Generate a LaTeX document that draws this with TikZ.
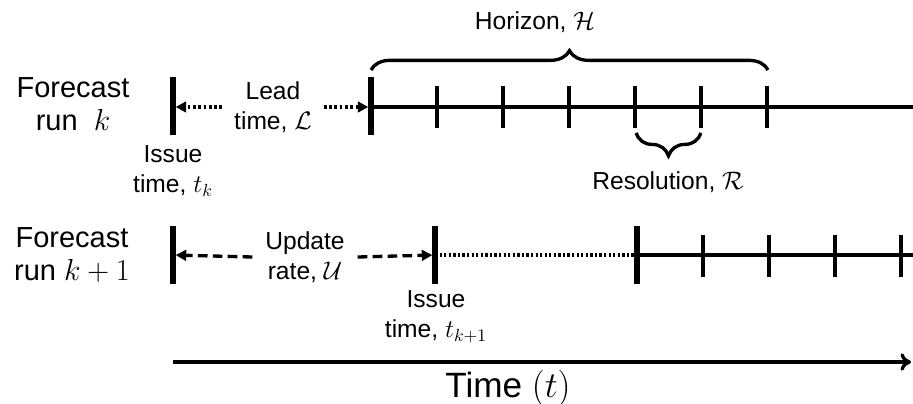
\documentclass[tikz,border=0pt]{standalone}
\usepackage{fontspec}
\setmainfont{Liberation Sans}
\usetikzlibrary{arrows.meta,decorations.pathreplacing}

\begin{document}
\begin{tikzpicture}[x=0.02cm,y=-0.02cm,inner sep=0pt,outer sep=0pt,
lbl/.style={align=center,font=\fontsize{14}{17}\selectfont},
runlbl/.style={align=center,font=\fontsize{16.5}{18.5}\selectfont},
axis/.style={line width=1.9pt},
bigtick/.style={line width=3pt},
smalltick/.style={line width=1.9pt},
dotarrow/.style={line width=1.9pt,dash pattern=on 1.5pt off 1.5pt,-{Triangle[length=6pt,width=6pt]},shorten >=1.5pt},
dasharrow/.style={line width=1.9pt,dash pattern=on 5.5pt off 3pt,-{Triangle[length=6pt,width=6pt]},shorten >=1.5pt},
brace/.style={line width=1.9pt,decorate,decoration={brace,amplitude=#1}}]
\useasboundingbox (0,0) rectangle (913,403);
% forecast run k
\draw (73,104) node[runlbl] (runA) {Forecast\\run\ \ $k$};
\draw[bigtick] (173,77) -- (173,135);
\draw[bigtick] (371,77) -- (371,135);
\coordinate (issA) at (173,107);
\coordinate (startA) at (371,107);
\coordinate (endA) at (913,107);
\draw[axis] (startA) -- (endA);
\foreach \x in {437,503,569,635,701,767}
  \draw[smalltick] (\x,86) -- (\x,128);
\draw (273,107) node[lbl,minimum width=58pt] (lead) {Lead\\time, $\mathcal{L}$};
\draw[dotarrow] (lead.west) -- (issA);
\draw[dotarrow] (lead.east) -- (startA);
\draw (173,171) node[lbl] (issAlbl) {Issue\\time, $t_k$};
\coordinate (hzL) at (371,70);
\coordinate (hzR) at (768,70);
\draw[brace=11pt] (hzL) -- (hzR);
\draw (535,22) node[lbl] (hz) {Horizon, $\mathcal{H}$};
\coordinate (resR) at (701,133);
\coordinate (resL) at (636,133);
\draw[brace=13pt] (resR) -- (resL);
\draw (668,182) node[lbl] (res) {Resolution, $\mathcal{R}$};
% forecast run k+1
\draw (72,255) node[runlbl] (runB) {Forecast\\run $k+1$};
\draw[bigtick] (173,226) -- (173,284);
\draw[bigtick] (435,226) -- (435,284);
\draw[bigtick] (637,226) -- (637,284);
\coordinate (updB) at (173,255);
\coordinate (issB) at (435,255);
\coordinate (startB) at (637,255);
\coordinate (endB) at (913,255);
\draw[line width=1.9pt,dash pattern=on 1.3pt off 1.3pt] (issB) -- (startB);
\draw[axis] (startB) -- (endB);
\foreach \x in {703,769,835,901}
  \draw[smalltick] (\x,235) -- (\x,277);
\draw (305,257) node[lbl,minimum width=60pt] (upd) {Update\\rate, $\mathcal{U}$};
\draw[dasharrow] (upd.west) -- (updB);
\draw[dasharrow] (upd.east) -- (issB);
\draw (436,317) node[lbl] (issBlbl) {Issue\\time, $t_{k+1}$};
% time axis
\coordinate (timeS) at (173,362);
\coordinate (timeE) at (911,362);
\draw[axis,-{To[length=6pt,width=10pt]}] (timeS) -- (timeE);
\draw (508,388) node[font=\fontsize{20}{24}\selectfont] (time) {Time $(t)$};
\end{tikzpicture}
\end{document}
